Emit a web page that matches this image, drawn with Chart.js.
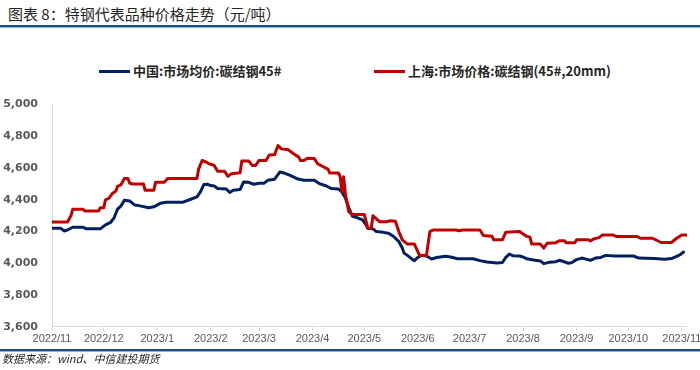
<!DOCTYPE html>
<html>
<head>
<meta charset="utf-8">
<script src="https://cdn.jsdelivr.net/npm/chart.js@4.4.0/dist/chart.umd.min.js"></script>
<style>
  html, body { margin: 0; padding: 0; background: #fff; overflow: hidden; }
  body { width: 700px; height: 370px; position: relative; font-family: "Noto Sans CJK SC", sans-serif; }
  #title { position: absolute; left: 8px; top: 5px; font-size: 15px; line-height: 18px; color: #262626; white-space: nowrap; }
  .rule { position: absolute; left: 0; width: 700px; height: 2px; background: #1f4e8c; border-bottom: 1px solid #8db3e2; }
  .item { position: absolute; top: 62px; height: 18px; line-height: 18px; font-size: 13px; font-weight: bold; color: #262626; white-space: nowrap; }
  .item i { display: inline-block; width: 31px; height: 3px; vertical-align: middle; margin-right: 3px; position: relative; top: -1px; }
  #wrap { position: absolute; left: 0; top: 84px; width: 720px; height: 270px; }
  #source { position: absolute; left: 2px; top: 351px; font-size: 11px; line-height: 14px; font-style: italic; color: #222; white-space: nowrap; }
</style>
</head>
<body>
<div id="title">图表 8：特钢代表品种价格走势（元/吨）</div>
<div class="rule" style="top:25px"></div>
<div class="item" style="left:99px"><i style="background:#002060"></i>中国:市场均价:碳结钢45#</div>
<div class="item" style="left:374px"><i style="background:#c00000"></i>上海:市场价格:碳结钢(45#,20mm)</div>
<div id="wrap"><canvas id="myChart"></canvas></div>
<div class="rule" style="top:349px"></div>
<div id="source">数据来源：wind、中信建投期货</div>

<script>
var chinaName = '中国:市场均价:碳结钢45#';
var shanghaiName = '上海:市场价格:碳结钢(45#,20mm)';

var monthLabels = ['2022/11', '2022/12', '2023/1', '2023/2', '2023/3', '2023/4', '2023/5',
    '2023/6', '2023/7', '2023/8', '2023/9', '2023/10', '2023/11'];
var monthStarts = ['2022-11-01', '2022-12-01', '2023-01-01', '2023-02-01', '2023-03-01', '2023-04-01',
    '2023-05-01', '2023-06-01', '2023-07-01', '2023-08-01', '2023-09-01', '2023-10-01', '2023-11-01'];

var chinaDates = ['2022-11-01', '2022-11-06', '2022-11-08', '2022-11-10', '2022-11-13', '2022-11-19',
    '2022-11-21', '2022-11-29', '2022-12-02', '2022-12-05', '2022-12-07', '2022-12-09', '2022-12-11',
    '2022-12-13', '2022-12-16', '2022-12-19', '2022-12-22', '2022-12-27', '2022-12-30', '2023-01-03',
    '2023-01-06', '2023-01-16', '2023-01-20', '2023-01-24', '2023-01-26', '2023-01-28', '2023-01-30',
    '2023-02-01', '2023-02-03', '2023-02-05', '2023-02-10', '2023-02-12', '2023-02-14', '2023-02-18',
    '2023-02-20', '2023-02-23', '2023-02-26', '2023-03-01', '2023-03-04', '2023-03-06', '2023-03-10',
    '2023-03-13', '2023-03-16', '2023-03-19', '2023-03-23', '2023-03-27', '2023-04-02', '2023-04-05',
    '2023-04-09', '2023-04-12', '2023-04-16', '2023-04-18', '2023-04-20', '2023-04-22', '2023-04-24',
    '2023-04-27', '2023-04-30', '2023-05-02', '2023-05-03', '2023-05-06', '2023-05-08', '2023-05-12',
    '2023-05-15', '2023-05-18', '2023-05-21', '2023-05-23', '2023-05-24', '2023-05-26', '2023-05-29',
    '2023-05-30', '2023-06-01', '2023-06-03', '2023-06-06', '2023-06-09', '2023-06-12', '2023-06-17',
    '2023-06-20', '2023-06-24', '2023-07-03', '2023-07-07', '2023-07-11', '2023-07-17', '2023-07-20',
    '2023-07-22', '2023-07-24', '2023-07-26', '2023-07-30', '2023-08-01', '2023-08-03', '2023-08-08',
    '2023-08-11', '2023-08-13', '2023-08-16', '2023-08-20', '2023-08-22', '2023-08-24', '2023-08-27',
    '2023-08-29', '2023-09-01', '2023-09-04', '2023-09-07', '2023-09-09', '2023-09-12', '2023-09-15',
    '2023-09-18', '2023-09-23', '2023-10-04', '2023-10-07', '2023-10-16', '2023-10-22', '2023-10-26',
    '2023-10-29', '2023-10-31', '2023-11-02'];
var chinaValues = [4221, 4221, 4204, 4210, 4227, 4227,
    4217, 4217, 4242, 4258, 4287, 4342, 4362,
    4398, 4393, 4367, 4362, 4350, 4356, 4379,
    4385, 4385, 4402, 4419, 4450, 4496, 4498,
    4490, 4487, 4471, 4468, 4446, 4460, 4465,
    4512, 4510, 4498, 4505, 4505, 4523, 4530,
    4575, 4567, 4554, 4533, 4523, 4523, 4502,
    4487, 4471, 4468, 4450, 4412, 4350, 4298,
    4287, 4273, 4242, 4221, 4217, 4200, 4195,
    4190, 4169, 4137, 4096, 4065, 4050, 4023,
    4017, 4037, 4050, 4046, 4027, 4037, 4044,
    4040, 4029, 4029, 4017, 4008, 4002, 4005,
    4037, 4058, 4048, 4046, 4040, 4029, 4019,
    4015, 3998, 4006, 4010, 4019, 4013, 4001,
    4004, 4023, 4033, 4025, 4019, 4033, 4037,
    4050, 4046, 4046, 4033, 4030, 4025, 4030,
    4044, 4054, 4071];

var shanghaiDates = ['2022-11-01', '2022-11-10', '2022-11-12', '2022-11-13', '2022-11-19', '2022-11-20',
    '2022-11-28', '2022-11-29', '2022-12-01', '2022-12-02', '2022-12-04', '2022-12-06', '2022-12-08',
    '2022-12-09', '2022-12-11', '2022-12-13', '2022-12-15', '2022-12-16', '2022-12-18', '2022-12-24',
    '2022-12-25', '2022-12-30', '2022-12-31', '2023-01-05', '2023-01-07', '2023-01-24', '2023-01-25',
    '2023-01-27', '2023-01-29', '2023-01-31', '2023-02-03', '2023-02-05', '2023-02-09', '2023-02-11',
    '2023-02-13', '2023-02-18', '2023-02-19', '2023-02-23', '2023-02-25', '2023-02-27', '2023-03-01',
    '2023-03-05', '2023-03-07', '2023-03-10', '2023-03-12', '2023-03-14', '2023-03-18', '2023-03-21',
    '2023-03-24', '2023-03-25', '2023-03-27', '2023-03-29', '2023-04-02', '2023-04-04', '2023-04-07',
    '2023-04-10', '2023-04-11', '2023-04-16', '2023-04-17', '2023-04-18', '2023-04-19', '2023-04-20',
    '2023-04-22', '2023-04-24', '2023-05-01', '2023-05-03', '2023-05-05', '2023-05-06', '2023-05-08',
    '2023-05-10', '2023-05-14', '2023-05-16', '2023-05-19', '2023-05-21', '2023-05-23', '2023-05-26',
    '2023-05-30', '2023-06-02', '2023-06-06', '2023-06-08', '2023-06-10', '2023-06-23', '2023-06-25',
    '2023-06-27', '2023-07-07', '2023-07-09', '2023-07-14', '2023-07-15', '2023-07-20', '2023-07-22',
    '2023-07-30', '2023-08-01', '2023-08-03', '2023-08-05', '2023-08-06', '2023-08-11', '2023-08-13',
    '2023-08-15', '2023-08-20', '2023-08-22', '2023-08-25', '2023-08-26', '2023-08-31', '2023-09-01',
    '2023-09-08', '2023-09-09', '2023-09-11', '2023-09-14', '2023-09-16', '2023-09-22', '2023-09-24',
    '2023-10-06', '2023-10-08', '2023-10-15', '2023-10-20', '2023-10-26', '2023-10-29', '2023-11-01',
    '2023-11-04'];
var shanghaiValues = [4260, 4260, 4300, 4340, 4340, 4330,
    4330, 4350, 4350, 4400, 4410, 4440, 4455,
    4485, 4495, 4535, 4535, 4505, 4500, 4500,
    4460, 4460, 4510, 4510, 4535, 4535, 4595,
    4648, 4640, 4627, 4617, 4580, 4580, 4548,
    4565, 4570, 4645, 4645, 4617, 4617, 4648,
    4648, 4683, 4685, 4742, 4721, 4715, 4690,
    4669, 4648, 4648, 4662, 4660, 4627, 4610,
    4592, 4569, 4569, 4548, 4450, 4545, 4440,
    4325, 4308, 4308, 4221, 4221, 4300, 4279,
    4262, 4262, 4268, 4265, 4200, 4148, 4121,
    4121, 4050, 4050, 4200, 4210, 4210, 4205,
    4210, 4210, 4175, 4170, 4148, 4148, 4196,
    4200, 4185, 4170, 4165, 4121, 4121, 4096,
    4127, 4130, 4142, 4142, 4130, 4130, 4148,
    4148, 4140, 4154, 4162, 4179, 4179, 4169,
    4169, 4158, 4158, 4131, 4131, 4158, 4179,
    4179];

var yMin = 3600;
var yMax = 5000;
var yStep = 200;

// days since 2022-11-01
function dayIndex(s) {
    var p = s.split('-');
    return (Date.UTC(+p[0], +p[1] - 1, +p[2]) - Date.UTC(2022, 10, 1)) / 86400000;
}

function toPoints(dates, values) {
    var pts = [];
    for (var i = 0; i < dates.length; i++) {
        pts.push({ x: dayIndex(dates[i]), y: values[i] });
    }
    return pts;
}

var tickDays = monthStarts.map(dayIndex);
var lastDay = dayIndex(shanghaiDates[shanghaiDates.length - 1]);

var axisColor = '#d9d9d9';
var labelColor = '#595959';

var ctx = document.getElementById('myChart').getContext('2d');
var myChart = new Chart(ctx, {
    type: 'line',
    data: {
        datasets: [
            {
                label: shanghaiName,
                data: toPoints(shanghaiDates, shanghaiValues),
                borderColor: '#c00000',
                borderWidth: 3,
                borderJoinStyle: 'round',
                borderCapStyle: 'round',
                pointRadius: 0,
                tension: 0,
                order: 0
            },
            {
                label: chinaName,
                data: toPoints(chinaDates, chinaValues),
                borderColor: '#002060',
                borderWidth: 3,
                borderJoinStyle: 'round',
                borderCapStyle: 'round',
                pointRadius: 0,
                tension: 0,
                order: 1
            }
        ]
    },
    options: {
        responsive: true,
        maintainAspectRatio: false,
        animation: false,
        layout: { padding: { top: 18, right: 33, bottom: 6, left: 0 } },
        plugins: {
            legend: { display: false },
            tooltip: { enabled: false }
        },
        scales: {
            x: {
                type: 'linear',
                min: 0,
                max: lastDay,
                afterBuildTicks: function (axis) {
                    axis.ticks = tickDays.map(function (d) { return { value: d }; });
                },
                grid: { drawOnChartArea: false, drawTicks: true, tickLength: 4, color: axisColor },
                border: { color: axisColor, width: 1 },
                ticks: {
                    autoSkip: false,
                    maxRotation: 0,
                    padding: 2,
                    color: labelColor,
                    font: { family: 'Liberation Sans', size: 11 },
                    callback: function (value) {
                        var i = tickDays.indexOf(value);
                        return i >= 0 ? monthLabels[i] : '';
                    }
                }
            },
            y: {
                min: yMin,
                max: yMax,
                afterFit: function (axis) {
                    axis.width = 52;
                },
                grid: { display: true, drawOnChartArea: false, drawTicks: false },
                border: { color: axisColor, width: 1 },
                ticks: {
                    stepSize: yStep,
                    padding: 14,
                    color: labelColor,
                    font: { family: 'DejaVu Sans', size: 11, weight: 'bold' },
                    callback: function (value) {
                        return value.toLocaleString('en-US');
                    }
                }
            }
        }
    }
});
</script>
</body>
</html>
